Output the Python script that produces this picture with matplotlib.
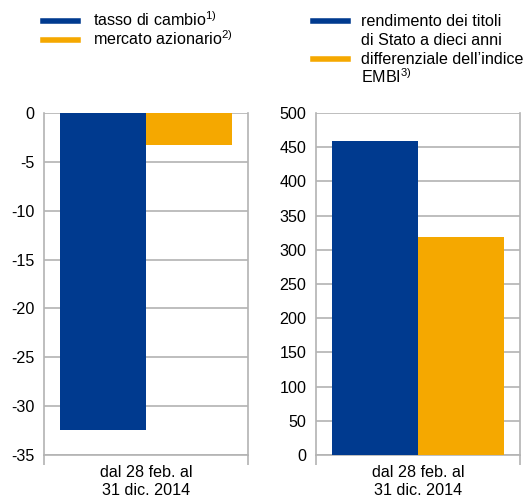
import matplotlib
matplotlib.use("Agg")
import matplotlib.pyplot as plt
from matplotlib.lines import Line2D

plt.rcParams['font.family'] = ['Liberation Sans', 'DejaVu Sans']
plt.rcParams['mathtext.fontset'] = 'custom'
plt.rcParams['mathtext.rm'] = 'Liberation Sans'
plt.rcParams['mathtext.it'] = 'Liberation Sans'
plt.rcParams['mathtext.bf'] = 'Liberation Sans'

category = "dal 28 feb. al\n31 dic. 2014"

left_labels = [["tasso di cambio$^{\\mathregular{1)}}$"],
               ["mercato azionario$^{\\mathregular{2)}}$"]]
left_values = [-32.4, -3.3]
left_ticks = [0, -5, -10, -15, -20, -25, -30, -35]

right_labels = [["rendimento dei titoli", "di Stato a dieci anni"],
                ["differenziale dell\u2019indice", "EMBI$^{\\mathregular{3)}}$"]]
right_values = [459, 318]
right_ticks = [0, 50, 100, 150, 200, 250, 300, 350, 400, 450, 500]

colors = ["#003A8F", "#F5A800"]
grid_c = "#B3B3B3"
FS = 11.6

fig = plt.figure(figsize=(5.25, 4.98), dpi=100)
W, H = 525, 498

def fx(px):
    return px / W

def fy(py):
    return 1 - py / H

axL = fig.add_axes([fx(44), fy(455), fx(204), 342 / H])
axR = fig.add_axes([fx(316), fy(455), fx(204), 342 / H])

def style(ax, values, ticks, ylim):
    offs = [-0.21, 0.21]
    for v, o, c in zip(values, offs, colors):
        ax.bar(o, v, width=0.42, color=c, zorder=3)
    ax.set_xlim(-0.5, 0.5)
    ax.set_ylim(*ylim)
    ax.set_yticks(ticks)
    ax.set_yticklabels([str(t) for t in ticks], fontsize=FS)
    ax.yaxis.grid(True, color=grid_c, linewidth=1.2, zorder=0)
    ax.set_axisbelow(True)
    for s in ax.spines.values():
        s.set_color(grid_c)
        s.set_linewidth(1.2)
    ax.spines['top'].set_visible(False)
    ax.tick_params(axis='y', length=0, pad=7, colors='black')
    ax.set_xticks([0])
    ax.set_xticklabels([category], fontsize=FS, linespacing=1.25)
    ax.tick_params(axis='x', which='major', length=0, pad=7.5)
    ax.set_xticks([-0.5, 0.5], minor=True)
    ax.tick_params(axis='x', which='minor', length=7, width=1.2, color=grid_c, direction='out')

style(axL, left_values, left_ticks, (-35, 0))
style(axR, right_values, right_ticks, (0, 500))

# legends
def legend(x_line, x_text, entries):
    for (lines, y_line, c) in entries:
        fig.lines.append(Line2D([fx(x_line), fx(x_line + 35)], [fy(y_line), fy(y_line)],
                                color=c, linewidth=4, transform=fig.transFigure))
        for i, ln in enumerate(lines):
            fig.text(fx(x_text), fy(y_line + 5 + 19 * i), ln, fontsize=FS,
                     va='baseline', ha='left')

legend(43, 93, [(left_labels[0], 21, colors[0]), (left_labels[1], 40, colors[1])])
legend(313, 361, [(right_labels[0], 21, colors[0]), (right_labels[1], 59, colors[1])])

fig.savefig("out.png", dpi=100)
